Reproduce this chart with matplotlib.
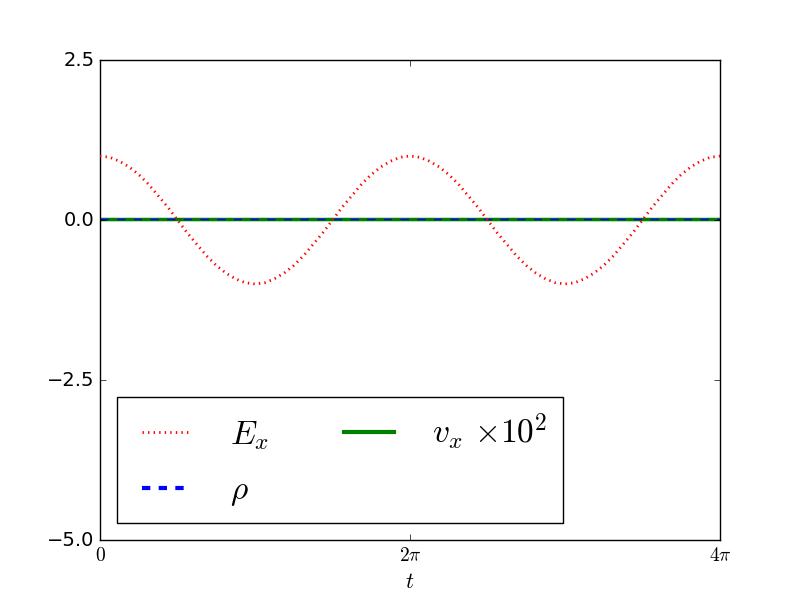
import numpy as np
import matplotlib
matplotlib.use("Agg")
import matplotlib.pyplot as plt

plt.style.use('classic')
plt.rcParams['mathtext.fontset'] = 'cm'

# sampled every pi/16 over two periods
t = np.linspace(0, 4 * np.pi, 65)
E_x = [1.00, 0.98, 0.92, 0.83, 0.71, 0.56, 0.38, 0.20, 0.00,
       -0.20, -0.38, -0.56, -0.71, -0.83, -0.92, -0.98, -1.00,
       -0.98, -0.92, -0.83, -0.71, -0.56, -0.38, -0.20, 0.00,
       0.20, 0.38, 0.56, 0.71, 0.83, 0.92, 0.98, 1.00,
       0.98, 0.92, 0.83, 0.71, 0.56, 0.38, 0.20, 0.00,
       -0.20, -0.38, -0.56, -0.71, -0.83, -0.92, -0.98, -1.00,
       -0.98, -0.92, -0.83, -0.71, -0.56, -0.38, -0.20, 0.00,
       0.20, 0.38, 0.56, 0.71, 0.83, 0.92, 0.98, 1.00]
rho = [0.02] * 65
v_x = [0.02] * 65  # already scaled x10^2

xtick_vals = [0, 2 * np.pi, 4 * np.pi]
xtick_labels = [r'$0$', r'$2\pi$', r'$4\pi$']
ytick_vals = [-5.0, -2.5, 0.0, 2.5]

fig, ax = plt.subplots(figsize=(8, 6), dpi=100)

ax.axhline(0, color='k', lw=1.5, zorder=1)
ax.plot(t, E_x, 'r:', lw=2, label=r'$E_x$', zorder=3)
ax.plot(t, v_x, 'g-', lw=2.5, label=r'$v_x$ $\times10^2$', zorder=2)
ax.plot(t, rho, 'b--', lw=1, label=r'$\rho$', zorder=2.5)

ax.set_xlim(0, 4 * np.pi)
ax.set_ylim(-5, 2.5)
ax.set_xticks(xtick_vals)
ax.set_xticklabels(xtick_labels, fontsize=14)
ax.set_yticks(ytick_vals)
ax.tick_params(axis='y', labelsize=14)
ax.set_xlabel(r'$t$', fontsize=16)

h, l = ax.get_legend_handles_labels()
# legend order: E_x, rho | v_x
order = [0, 2, 1]
handles = [h[i] for i in order]
labels = [l[i] for i in order]
handles[1] = plt.Line2D([], [], color='b', ls='--', lw=3)
handles[2] = plt.Line2D([], [], color='g', ls='-', lw=3)
ax.legend(handles, labels, loc='lower left', ncol=2, fontsize=24,
          handlelength=2.1, handletextpad=0.85, columnspacing=1.95,
          labelspacing=0.65, borderpad=0.45)

plt.savefig('out.png')
